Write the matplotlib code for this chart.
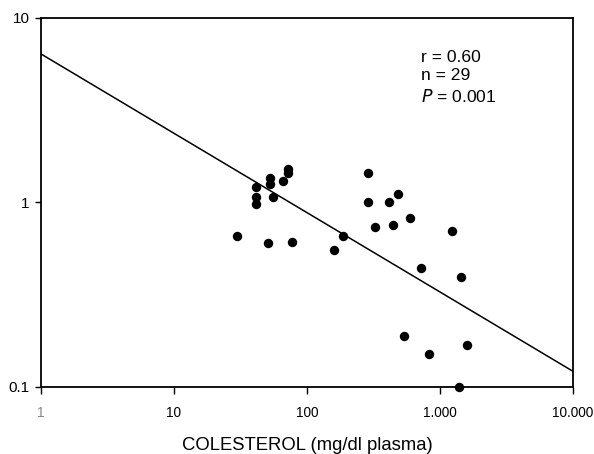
import matplotlib
matplotlib.use("Agg")
import matplotlib.pyplot as plt
import numpy as np
from matplotlib.ticker import FixedLocator, FixedFormatter, NullLocator

plt.rcParams['font.family'] = ['Liberation Sans', 'DejaVu Sans']

# Data
colesterol = [41.1, 41.1, 41.1, 52.7, 52.7, 55.8, 66.3, 72.3, 72.3, 29.9,
              51.2, 77.1, 160.4, 185.5, 289, 289, 413.8, 480.9, 594.7, 322.8,
              445.7, 1231, 716, 1446, 538, 822, 1596, 1382]
yvals = [1.21, 1.07, 0.98, 1.36, 1.26, 1.07, 1.31, 1.51, 1.44, 0.66,
         0.60, 0.61, 0.553, 0.66, 1.44, 1.01, 1.01, 1.11, 0.828, 0.74,
         0.755, 0.698, 0.44, 0.394, 0.19, 0.151, 0.169, 0.10]

# Regression line (log-log): log10(y) = a + b*log10(x)
reg_a = 0.805
reg_b = -0.43
reg_x = [1, 10000]

xticks = [1, 10, 100, 1000, 10000]
xticklabels = ["1", "10", "100", "1.000", "10.000"]
yticks = [0.1, 1, 10]
yticklabels = ["0.1", "1", "10"]

fig = plt.figure(figsize=(5.94, 4.54), dpi=100)
ax = fig.add_axes([0.069, 0.1476, 0.8956, 0.8128])

ax.set_xscale('log')
ax.set_yscale('log')

ax.scatter(colesterol, yvals, s=46, color='black', zorder=3, linewidths=0, clip_on=False)

rx = np.array(reg_x, dtype=float)
ry = 10 ** (reg_a + reg_b * np.log10(rx))
ax.plot(rx, ry, color='black', lw=1.1)

ax.set_xlim(1, 10000)
ax.set_ylim(0.1, 10)

ax.xaxis.set_major_locator(FixedLocator(xticks))
ax.xaxis.set_major_formatter(FixedFormatter(xticklabels))
ax.xaxis.set_minor_locator(NullLocator())
ax.yaxis.set_major_locator(FixedLocator(yticks))
ax.yaxis.set_major_formatter(FixedFormatter(yticklabels))
ax.yaxis.set_minor_locator(NullLocator())

ax.tick_params(axis='x', direction='out', length=5, width=1, pad=9, labelsize=9.8, colors='black')
ax.tick_params(axis='y', direction='out', length=4, width=1, pad=4, labelsize=11)
ax.get_xticklabels()[0].set_color('#888888')

for s in ax.spines.values():
    s.set_linewidth(1.3)

ax.set_xlabel("COLESTEROL (mg/dl plasma)", fontsize=13.3, labelpad=12)

ax.text(0.714, 0.914, "r = 0.60\nn = 29\n$\\it{P}$ = 0.001", transform=ax.transAxes,
        fontsize=12.6, va='top', ha='left', linespacing=1.3)

fig.savefig("out.png", dpi=100)
